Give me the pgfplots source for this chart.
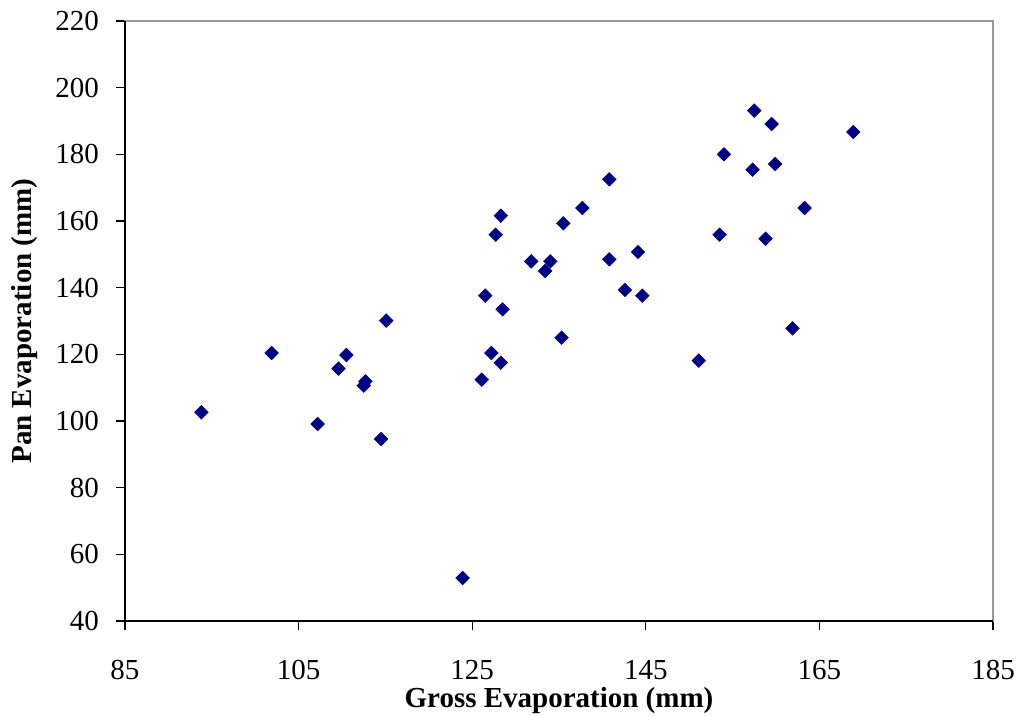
\documentclass[border=0pt]{standalone}
\usepackage{pgfplots}
\pgfplotsset{compat=1.18}
\usepackage{fontspec}
\setmainfont{Liberation Serif}
\definecolor{navy}{RGB}{0,0,128}
\begin{document}
\begin{tikzpicture}
\begin{axis}[
  width=434pt, height=300pt, scale only axis,
  xmin=85, xmax=185, ymin=40, ymax=220,
  xtick={85,105,125,145,165,185},
  ytick={40,60,...,220},
  tick align=outside, xtick pos=bottom, ytick pos=left,
  major tick length=4.5pt,
  every tick/.style={black, line width=0.6pt},
  axis line style={gray!80, line width=0.6pt},
  /pgf/number format/assume math mode=true,
  ticklabel style={font=\fontsize{14.5}{16}\selectfont},
  xticklabel style={anchor=base, yshift=-25pt, inner sep=0.5pt},
  yticklabel style={anchor=east, xshift=-5pt},
  xlabel={Gross Evaporation (mm)},
  ylabel={Pan Evaporation (mm)},
  label style={font=\fontsize{14.5}{16}\selectfont\bfseries},
  xlabel style={at={(axis description cs:0.5,0)}, anchor=base, yshift=-43.5pt, inner sep=0.5pt},
  ylabel style={at={(axis description cs:0,0.5)}, anchor=base, yshift=46.5pt},
  clip=false,
]
\coordinate (SW) at (rel axis cs:0,0);
\coordinate (NE) at (rel axis cs:1,1);
\draw[black, line width=0.7pt] (rel axis cs:0,1) -- (rel axis cs:0,0) -- (rel axis cs:1,0);
\addplot[only marks, mark=square*, mark size=2.35pt, mark options={rotate=45, fill=navy, draw=navy}, color=navy]
coordinates {
(93.8,102.6) (101.9,120.4) (107.2,99.1) (109.6,115.7) (110.5,119.8)
(112.7,111.9) (112.5,110.6) (114.5,94.6) (115.1,130.1) (123.9,52.9)
(126.1,112.4) (126.5,137.6) (127.2,120.4) (128.5,133.5) (128.3,117.5)
(157.5,193.1) (159.5,189.1) (168.9,186.7) (154.0,180.0) (157.3,175.4)
(159.9,177.1) (140.8,172.5) (137.7,163.9) (163.3,163.9) (128.3,161.6)
(135.5,159.3) (127.7,155.9) (153.5,155.9) (158.8,154.7) (144.1,150.7)
(131.8,147.9) (134.0,147.9) (133.4,145.0) (140.8,148.5) (142.6,139.3)
(144.6,137.6) (161.9,127.8) (135.3,125.0) (151.1,118.1)
};
\end{axis}
\pgfresetboundingbox
\path ([shift={(-62.5pt,-47.5pt)}]SW) rectangle ([shift={(13pt,10.5pt)}]NE);
\end{tikzpicture}
\end{document}
